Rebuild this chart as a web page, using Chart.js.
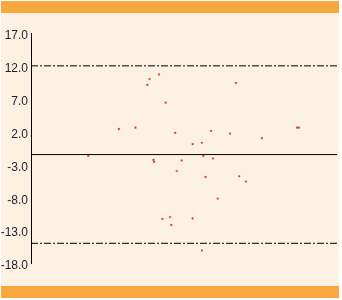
<!DOCTYPE html>
<html>
<head>
<meta charset="utf-8">
<script src="https://cdn.jsdelivr.net/npm/chart.js@4"></script>
<style>
    html, body { margin: 0; padding: 0; background: #ffffff; }
    #panel { position: absolute; left: 1px; top: 1px; width: 338px; height: 297px; background: #fdf1e1; }
    .barra { position: absolute; left: 1px; width: 338px; background: #f9a73f; }
    #arriba { top: 1px; height: 12px; }
    #abajo { top: 286px; height: 12px; }
    canvas { position: absolute; left: 0; top: 0; }
</style>
</head>
<body>
<div id="panel"></div>
<div class="barra" id="arriba"></div>
<div class="barra" id="abajo"></div>
<canvas id="grafica" width="342" height="300"></canvas>
<script>
// promedio de las dos medidas (eje x, sin etiquetas)
const promedios = [38.7, 41.8, 38.0, 44.0, 28.7, 34.1, 47.1, 52.8, 55.8, 56.3,
                   18.7, 40.0, 40.2, 49.2, 58.8, 65.0, 75.4, 59.4, 47.6, 57.0,
                   68.0, 70.2, 61.0, 42.9, 45.4, 45.8, 52.8, 55.8, 66.9, 86.9, 87.5];
// diferencias
const diferencias = [10.0, 10.7, 9.1, 6.4, 2.4, 2.6, 1.8, 0.1, 0.3, -1.7,
                     -1.7, -2.3, -2.6, -2.4, 2.1, 1.7, 1.0, -2.1, -4.0, -4.9,
                     -4.8, -5.6, -8.2, -11.3, -11.0, -12.2, -11.2, -16.1, 9.4, 2.6, 2.6];
const limiteSuperior = 12.0;
const media = -1.5;
const limiteInferior = -15.0;
const ejeX = [0, 100];
const ticksY = [-18, -13, -8, -3, 2, 7, 12, 17];

(function() {
    const ctx = document.querySelector('#grafica').getContext('2d');

    const linea = (valor, dash) => ({
        type: 'line',
        data: ejeX.map(x => ({ x: x, y: valor })),
        borderColor: '#000000',
        borderWidth: 1,
        borderDash: dash,
        pointRadius: 0,
        fill: false
    });

    new Chart(ctx, {
        type: 'scatter',
        data: {
            datasets: [
                {
                    data: promedios.map((x, i) => ({ x: x, y: diferencias[i] })),
                    pointStyle: 'rect',
                    pointRadius: 1.2,
                    backgroundColor: '#d43a40',
                    borderColor: 'rgba(216,56,62,0.3)',
                    borderWidth: 0.8
                },
                linea(limiteSuperior, [7, 2, 2, 2]),
                linea(media, []),
                linea(limiteInferior, [7, 2, 2, 2])
            ]
        },
        options: {
            responsive: false,
            animation: false,
            layout: {
                padding: { left: 0, top: 33, right: 4, bottom: 37 }
            },
            scales: {
                x: {
                    type: 'linear',
                    min: ejeX[0],
                    max: ejeX[1],
                    display: false
                },
                y: {
                    min: -18,
                    max: 17,
                    afterBuildTicks: scale => {
                        scale.ticks = ticksY.map(v => ({ value: v }));
                    },
                    afterFit: scale => { scale.width = 31; },
                    grid: { display: false, drawTicks: false },
                    border: { display: true, color: '#000000', width: 1 },
                    ticks: {
                        padding: 3,
                        labelOffset: 3,
                        color: '#1e1e2e',
                        font: { family: 'Liberation Sans', size: 12 },
                        callback: v => Number(v).toFixed(1)
                    }
                }
            },
            plugins: {
                legend: { display: false },
                tooltip: { enabled: false }
            }
        }
    });
})();
</script>
</body>
</html>
